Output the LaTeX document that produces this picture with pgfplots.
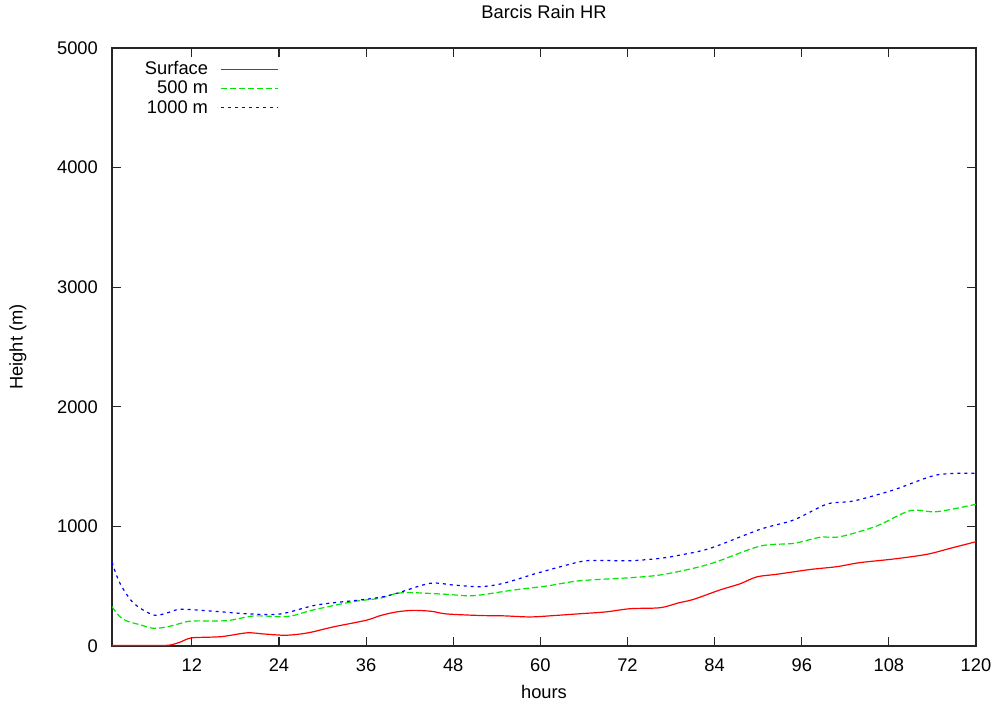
\documentclass[border=0pt]{standalone}
\usepackage{pgfplots}
\pgfplotsset{compat=1.18}
\usepackage{fontspec}
\setmainfont{Liberation Sans}
\definecolor{gpred}{RGB}{255,0,0}
\definecolor{gpgreen}{RGB}{0,230,0}
\definecolor{gpblue}{RGB}{0,0,255}
\newcommand{\lstrut}{\rule[-3.5bp]{0pt}{17bp}}
\begin{document}
\fontsize{18.3bp}{22bp}\selectfont
\begin{tikzpicture}
\useasboundingbox (-112bp,-60bp) rectangle (884bp,646bp);
\begin{axis}[
  scale only axis, width=864bp, height=598bp,
  xmin=1, xmax=120, ymin=0, ymax=5000,
  xtick={12,24,...,120}, ytick={0,1000,...,5000},
  tick align=inside, major tick length=9bp,
  axis line style={line width=1.3bp, black!85},
  every tick/.style={line width=1.1bp, black!85},
  /pgf/number format/assume math mode=true,
  scaled y ticks=false,
  yticklabel style={/pgf/number format/1000 sep={}, anchor=east, inner sep=0pt, xshift=-14bp},
  xticklabel style={anchor=base, inner sep=0pt, yshift=-25bp},
  title={Barcis Rain HR},
  title style={at={(axis description cs:0.5,1.0401)}, anchor=base, inner sep=0pt},
  xlabel={hours},
  xlabel style={at={(axis description cs:0.5,-0.087)}, anchor=base, inner sep=0pt},
  ylabel={Height (m)},
  ylabel style={at={(axis description cs:-0.1088,0.5)}, anchor=center, inner sep=0pt},
  legend cell align=right,
  legend style={draw=none, fill=none, at={(axis description cs:0.0333,0.9833)}, anchor=north west,
    nodes={inner sep=1bp}, row sep=1bp, column sep=11bp},
  legend plot pos=right,
]
\addplot[draw=gpred, line width=1.2bp, smooth,
  legend image code/.code={\path[draw=gpred, line width=1.2bp] (0bp,0bp) -- (57bp,0bp);}] coordinates {
(1,4) (4,4) (7,4) (9,8) (10.5,35) (12,68) (16,78) (19.6,110) (22,100) (25,90) (28,110)
(31.5,160) (36,215) (38,255) (40.2,285) (42.5,298) (45,290) (47.1,268) (51.7,255)
(55,252) (58.6,243) (62,255) (65.5,270) (69,285) (72.4,312) (76.5,320) (79,360)
(81.1,390) (84.8,470) (87.5,520) (89.8,578) (92.6,600) (97.2,640) (100.8,663)
(104,697) (108.6,727) (113.2,766) (116.4,816) (120,872)
};
\addlegendentry{\lstrut Surface}
\addplot[draw=gpgreen, line width=1.2bp, smooth, dash pattern=on 6bp off 3bp,
  legend image code/.code={\path[draw=gpgreen, line width=1.2bp, dash pattern=on 6bp off 3bp] (0bp,0bp) -- (57bp,0bp);}] coordinates {
(1,329) (2,250) (3,210) (5,175) (6.7,148) (8.6,160) (10.5,190) (12,209) (16.8,212)
(20.5,251) (24.2,245) (26,255) (28.7,301) (34.2,371) (37.9,399) (40.2,440) (42.5,446)
(47.1,432) (50.8,421) (56.3,468) (60.9,502) (65.5,546) (72.4,571) (76.5,594)
(81.1,650) (84.3,705) (90.3,836) (94.9,858) (98.5,909) (101.3,914) (106.3,1003)
(110.9,1131) (114.6,1123) (120,1185)
};
\addlegendentry{\lstrut 500 m}
\addplot[draw=gpblue, line width=1.2bp, smooth, dash pattern=on 3bp off 4bp,
  legend image code/.code={\path[draw=gpblue, line width=1.2bp, dash pattern=on 3bp off 4bp] (0bp,0bp) -- (57bp,0bp);}] coordinates {
(1,700) (2.1,524) (4,357) (6.7,259) (8.5,275) (10.4,307) (14.5,293) (20,268)
(24.2,268) (29.2,343) (35.2,385) (37.9,407) (40.2,440) (44.8,524) (48,510)
(51.7,496) (54.9,524) (59.5,608) (65.5,705) (68,715) (72.4,713) (76.5,733)
(79.3,761) (83.4,817) (90.3,976) (94.9,1054) (99.5,1187) (103.1,1212) (108.6,1304)
(114.6,1430) (120,1444)
};
\addlegendentry{\lstrut 1000 m}
\end{axis}
\end{tikzpicture}
\end{document}
